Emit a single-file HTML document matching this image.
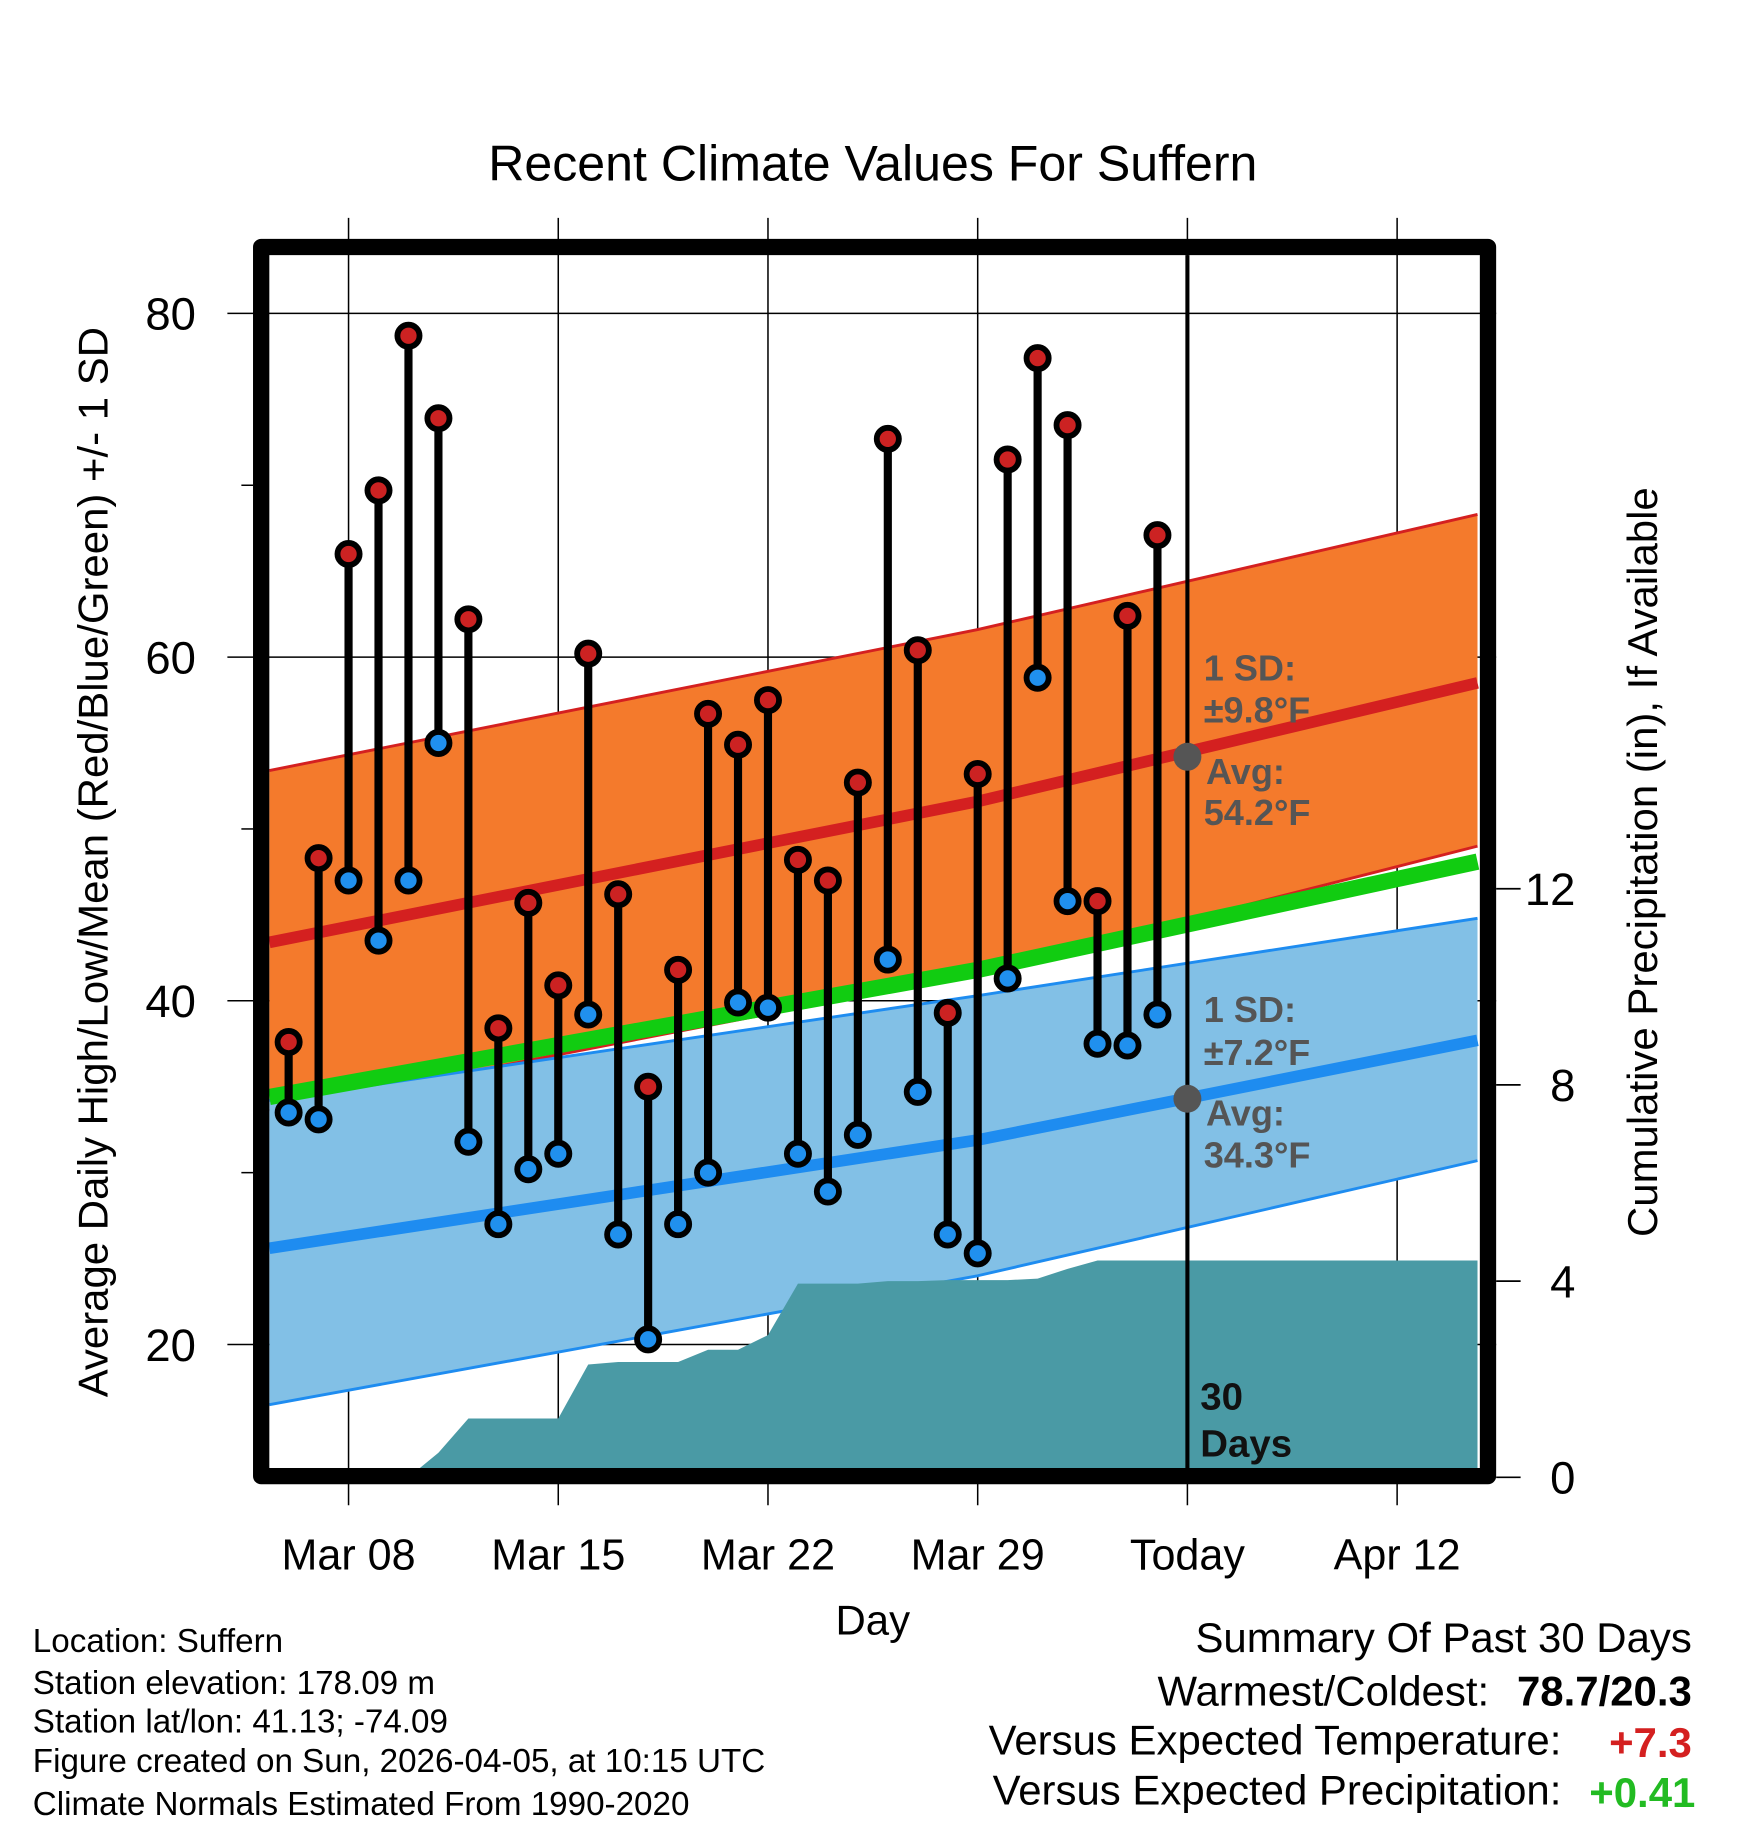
<!DOCTYPE html>
<html><head><meta charset="utf-8"><style>
html,body{margin:0;padding:0;background:#fff}
svg{display:block;font-family:"Liberation Sans",Arial,sans-serif}
</style></head><body>
<svg id="chart" width="1748" height="1828" viewBox="0 0 1500 1569" xmlns="http://www.w3.org/2000/svg">
<rect width="1500" height="1569" fill="#fff"/>
<text x="749" y="155" font-size="43" text-anchor="middle">Recent Climate Values For Suffern</text>
<g id="grid"></g>
<g id="bands"></g>
<g id="marks"></g>
<g id="axes"></g>
<rect x="224" y="212" width="1053" height="1055" fill="none" stroke="#000" stroke-width="14" stroke-linejoin="round"/>
<text transform="translate(92,740) rotate(-90)" font-size="36" text-anchor="middle">Average Daily High/Low/Mean (Red/Blue/Green) +/- 1 SD</text>
<text transform="translate(1422,740) rotate(-90)" font-size="36" text-anchor="middle">Cumulative Precipitation (in), If Available</text>
<text x="749" y="1403" font-size="36" text-anchor="middle">Day</text>
<g font-size="28.5">
<text x="28" y="1418">Location: Suffern</text>
<text x="28" y="1454">Station elevation: 178.09 m</text>
<text x="28" y="1487">Station lat/lon: 41.13; -74.09</text>
<text x="28" y="1521">Figure created on Sun, 2026-04-05, at 10:15 UTC</text>
<text x="28" y="1558">Climate Normals Estimated From 1990-2020</text>
</g>
<g font-size="36">
<text x="1452" y="1418" text-anchor="end">Summary Of Past 30 Days</text>
<text x="1278" y="1464" text-anchor="end">Warmest/Coldest:</text>
<text x="1452" y="1464" text-anchor="end" font-weight="bold">78.7/20.3</text>
<text x="1340" y="1506" text-anchor="end">Versus Expected Temperature:</text>
<text x="1452" y="1508" text-anchor="end" font-weight="bold" fill="#d42020">+7.3</text>
<text x="1340" y="1549" text-anchor="end">Versus Expected Precipitation:</text>
<text x="1455" y="1551" text-anchor="end" font-weight="bold" fill="#22bb22">+0.41</text>
</g>
</svg>
<script>
const days = ["Mar 06","Mar 07","Mar 08","Mar 09","Mar 10","Mar 11","Mar 12","Mar 13","Mar 14","Mar 15","Mar 16","Mar 17","Mar 18","Mar 19","Mar 20","Mar 21","Mar 22","Mar 23","Mar 24","Mar 25","Mar 26","Mar 27","Mar 28","Mar 29","Mar 30","Mar 31","Apr 01","Apr 02","Apr 03","Apr 04"];
const highs = [37.6,48.3,66.0,69.7,78.7,73.9,62.2,38.4,45.7,40.9,60.2,46.2,35.0,41.8,56.7,54.9,57.5,48.2,47.0,52.7,72.7,60.4,39.3,53.2,71.5,77.4,73.5,45.8,62.4,67.1];
const lows = [33.5,33.1,47.0,43.5,47.0,55.0,31.8,27.0,30.2,31.1,39.2,26.4,20.3,27.0,30.0,39.9,39.6,31.1,28.9,32.2,42.4,34.7,26.4,25.3,41.3,58.8,45.8,37.5,37.4,39.2];
const precip = [0,0,0,0,0,0.5,1.2,1.2,1.2,1.2,2.3,2.35,2.35,2.35,2.6,2.6,2.9,3.95,3.95,3.95,4.0,4.0,4.02,4.02,4.02,4.05,4.25,4.42,4.42,4.42];
// normals at left edge, middle (Mar 29), right edge
const normHighUpper = [53.4,61.6,68.3];
const normHigh = [43.4,51.6,58.5];
const normHighLower = [33.6,41.6,49.0];
const normMean = [34.4,41.8,48.1];
const normLowUpper = [34.2,40.3,44.8];
const normLow = [25.6,31.9,37.7];
const normLowLower = [16.5,24.0,30.7];
const yTicks = [20,40,60,80];
const y2Ticks = [0,4,8,12];
const xTickLabels = ["Mar 08","Mar 15","Mar 22","Mar 29","Today","Apr 12"];
const xTickDays = [0,7,14,21,28,35];

const NS="http://www.w3.org/2000/svg";
const X0=231,X1=1268,Y0=219,Y1=1260;
const xd=d=>299+d*180/7;
const yv=v=>269+(80-v)*14.75;
const yp=p=>1268-p*42.1;
const dayIdx=i=>i-2;
const normX=[X0,xd(21),X1];
function el(tag,attrs,parent){const e=document.createElementNS(NS,tag);for(const k in attrs)e.setAttribute(k,attrs[k]);parent.appendChild(e);return e;}
const grid=document.getElementById('grid'),bands=document.getElementById('bands'),marks=document.getElementById('marks'),axes=document.getElementById('axes');

yTicks.forEach(v=>{const l=el('line',{x1:195,x2:1284,y1:yv(v),y2:yv(v),stroke:'#000','stroke-width':1.3},grid);


const t=el('text',{x:168,y:yv(v)+14,'font-size':39,'text-anchor':'end'},axes);t.textContent=v;

});
[30,50,70].forEach(v=>{const l=el('line',{x1:207,x2:217,y1:yv(v),y2:yv(v),stroke:'#000','stroke-width':1.3},axes);

});
xTickDays.forEach((d,i)=>{const l=el('line',{x1:xd(d),x2:xd(d),y1:187,y2:1292,stroke:'#000','stroke-width':1.3},grid);


const t=el('text',{x:xd(d),y:1347,'font-size':37,'text-anchor':'middle'},axes);t.textContent=xTickLabels[i];

});
y2Ticks.forEach(p=>{const l=el('line',{x1:1284,x2:1305,y1:yp(p),y2:yp(p),stroke:'#000','stroke-width':1.5},axes);


const t=el('text',{x:1352,y:yp(p)+14,'font-size':39,'text-anchor':'end'},axes);t.textContent=p;

});

function pts(arr){return arr.map((v,i)=>normX[i]+','+yv(v)).join(' ');}
function band(up,lo,fill,name){const p=up.map((v,i)=>normX[i]+','+yv(v)).concat(lo.map((v,i)=>normX[i]+','+yv(v)).reverse());
const e=el('polygon',{points:p.join(' '),fill:fill},bands);

}
function line(arr,color,w,name){const e=el('polyline',{points:pts(arr),fill:'none',stroke:color,'stroke-width':w,'stroke-linejoin':'round'},bands);

}
band(normHighUpper,normHighLower,'#f47a2c','high-sd-band');
line(normHighUpper,'#d42020',2.5,'high-sd-upper');
line(normHighLower,'#d42020',2.5,'high-sd-lower');
line(normHigh,'#d42020',10,'normal-high-line');
band(normLowUpper,normLowLower,'#82c0e6','low-sd-band');
line(normLowUpper,'#1e8cf0',2.5,'low-sd-upper');
line(normLowLower,'#1e8cf0',2.5,'low-sd-lower');
line(normLow,'#1e8cf0',10,'normal-low-line');
line(normMean,'#11cc11',14,'normal-mean-line');

let pp=[];precip.forEach((p,i)=>{if(i>=4)pp.push(xd(dayIdx(i))+','+yp(p));});
pp.push(X1+','+yp(precip[precip.length-1]));pp.push(X1+','+Y1);pp.push(xd(dayIdx(4))+','+Y1);
const pa=el('polygon',{points:pp.join(' '),fill:'#4a9aa5'},bands);


const cover=el('rect',{x:X0,y:Y1,width:X1-X0,height:10,fill:'#4a9aa5'},bands);



const tl=el('line',{x1:xd(28),x2:xd(28),y1:Y0,y2:Y1,stroke:'#000','stroke-width':3.5},marks);



highs.forEach((h,i)=>{const x=xd(dayIdx(i));
const b=el('line',{x1:x,x2:x,y1:yv(h),y2:yv(lows[i]),stroke:'#000','stroke-width':7},marks);

});
highs.forEach((h,i)=>{const x=xd(dayIdx(i));
const c1=el('circle',{cx:x,cy:yv(h),r:9.5,fill:'#cc2222',stroke:'#000','stroke-width':5},marks);


const c2=el('circle',{cx:x,cy:yv(lows[i]),r:9.5,fill:'#2090ee',stroke:'#000','stroke-width':5},marks);

});

[54.2,34.3].forEach(v=>{const c=el('circle',{cx:xd(28),cy:yv(v),r:12,fill:'#555'},marks);

});
function txt(s,x,y,size,fill,name){const t=el('text',{x:x,y:y,'font-size':size,'font-weight':'bold',fill:fill},marks);t.textContent=s;

}
txt('1 SD:',1033,584,31,'#555','high-sd-label');
txt('\u00b19.8\u00b0F',1033,620,31,'#555','high-sd-value');
txt('Avg:',1035,673,31,'#555','high-avg-label');
txt('54.2\u00b0F',1033,708,31,'#555','high-avg-value');
txt('1 SD:',1033,877,31,'#555','low-sd-label');
txt('\u00b17.2\u00b0F',1033,914,31,'#555','low-sd-value');
txt('Avg:',1035,966,31,'#555','low-avg-label');
txt('34.3\u00b0F',1033,1002,31,'#555','low-avg-value');
txt('30',1030,1210,33,'#111','days-count');
txt('Days',1030,1250,33,'#111','days-label');
</script>
</body></html>
